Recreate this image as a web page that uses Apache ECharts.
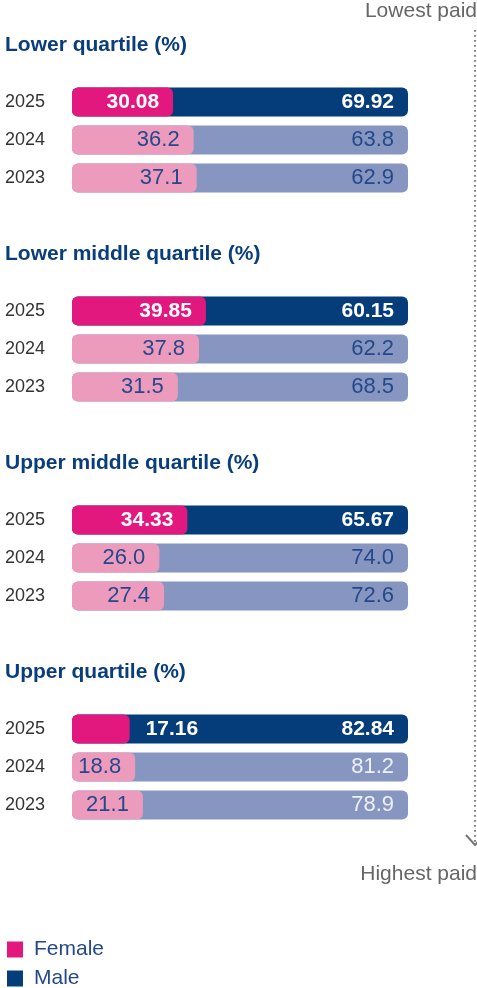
<!DOCTYPE html>
<html>
<head>
<meta charset="utf-8">
<script src="https://cdn.jsdelivr.net/npm/echarts@6/dist/echarts.min.js"></script>
<style>
  html, body { margin: 0; padding: 0; background: #fff; }
  #main { width: 477px; height: 988px; }
</style>
</head>
<body>
<div id="main"></div>
<script>
// data
var years = ['2025', '2024', '2023'];
var quartiles = ['Lower quartile (%)', 'Lower middle quartile (%)', 'Upper middle quartile (%)', 'Upper quartile (%)'];
var female = [
    [30.08, 36.2, 37.1],
    [39.85, 37.8, 31.5],
    [34.33, 26.0, 27.4],
    [17.16, 18.8, 21.1]
];
var male = [
    [69.92, 63.8, 62.9],
    [60.15, 62.2, 68.5],
    [65.67, 74.0, 72.6],
    [82.84, 81.2, 78.9]
];

~function () {
    var font = 'Liberation Sans, Arial, sans-serif';
    var navy = '#0a3d7c';
    var femaleCol = ['#e2187f', '#ec9bbd', '#ec9bbd'];
    var maleCol = ['#053d7b', '#8796c0', '#8796c0'];
    var decimals = [2, 1, 1];
    var gridLeft = 72, gridW = 336, pitch = 209;

    var titles = [], grids = [], xAxes = [], yAxes = [], series = [];

    quartiles.forEach(function (q, i) {
        titles.push({
            text: q,
            left: 5,
            top: 35 + pitch * i,
            padding: 0,
            textStyle: {fontFamily: font, fontSize: 21, fontWeight: 'bold', color: navy}
        });
        grids.push({left: gridLeft, width: gridW, top: 83 + pitch * i, height: 114});
        xAxes.push({type: 'value', gridIndex: i, min: 0, max: 100, show: false});
        yAxes.push({
            type: 'category',
            gridIndex: i,
            inverse: true,
            data: years,
            axisLine: {show: false},
            axisTick: {show: false},
            axisLabel: {
                align: 'left',
                margin: 67,
                fontFamily: font,
                fontSize: 18,
                color: '#333'
            }
        });

        // male bar spans the full row, female bar is drawn on top of it
        series.push({
            name: 'Male',
            type: 'bar',
            xAxisIndex: i,
            yAxisIndex: i,
            barWidth: 29,
            barGap: '-100%',
            itemStyle: {color: maleCol[0], borderRadius: 6},
            data: male[i].map(function (v, j) {
                var light = (i === 3 && j > 0);
                return {
                    value: v + female[i][j],
                    itemStyle: {color: maleCol[j]},
                    label: {
                        show: true,
                        position: 'insideRight',
                        distance: 14,
                        formatter: v.toFixed(decimals[j]),
                        fontFamily: font,
                        fontSize: j === 0 ? 21 : 22,
                        fontWeight: j === 0 ? 'bold' : 'normal',
                        color: j === 0 ? '#fff' : (light ? '#eef0f7' : '#24498a')
                    }
                };
            })
        });
        series.push({
            name: 'Female',
            type: 'bar',
            xAxisIndex: i,
            yAxisIndex: i,
            barWidth: 29,
            barGap: '-100%',
            itemStyle: {color: femaleCol[0], borderRadius: 6},
            data: female[i].map(function (v, j) {
                var px = v / 100 * gridW;
                var txt = v.toFixed(decimals[j]);
                var outside = px < txt.length * 11 + 16;
                return {
                    value: v,
                    itemStyle: {color: femaleCol[j]},
                    label: {
                        show: true,
                        position: outside ? 'right' : 'insideRight',
                        distance: outside ? 16 : 14,
                        formatter: txt,
                        fontFamily: font,
                        fontSize: j === 0 ? 21 : 22,
                        fontWeight: j === 0 ? 'bold' : 'normal',
                        color: j === 0 ? '#fff' : '#24498a'
                    }
                };
            })
        });
    });

    var myChart = echarts.init(document.getElementById('main'));
    var option = {
        animation: false,
        title: titles,
        grid: grids,
        xAxis: xAxes,
        yAxis: yAxes,
        legend: {
            data: ['Female', 'Male'],
            orient: 'vertical',
            left: 7,
            top: 939,
            height: 70,
            padding: 0,
            itemWidth: 16,
            itemHeight: 16,
            itemGap: 8,
            icon: 'rect',
            selectedMode: false,
            textStyle: {fontFamily: font, fontSize: 21, lineHeight: 21, color: '#24498a', padding: [0, 0, 0, 6]}
        },
        graphic: [
            {
                type: 'text',
                right: 0,
                top: 1,
                style: {text: 'Lowest paid', fontFamily: font, fontSize: 21, fill: '#666'}
            },
            {
                type: 'text',
                right: 0,
                top: 864,
                style: {text: 'Highest paid', fontFamily: font, fontSize: 21, fill: '#666'}
            },
            {
                type: 'line',
                shape: {x1: 475, y1: 30, x2: 475, y2: 844},
                style: {stroke: '#777', lineWidth: 1.8, lineDash: [1.8, 3.2]}
            },
            {
                type: 'polyline',
                shape: {points: [[466, 835], [475, 845], [484, 835]]},
                style: {stroke: '#777', lineWidth: 2, fill: null}
            }
        ],
        series: series
    };
    myChart.setOption(option);
}();
</script>
</body>
</html>
